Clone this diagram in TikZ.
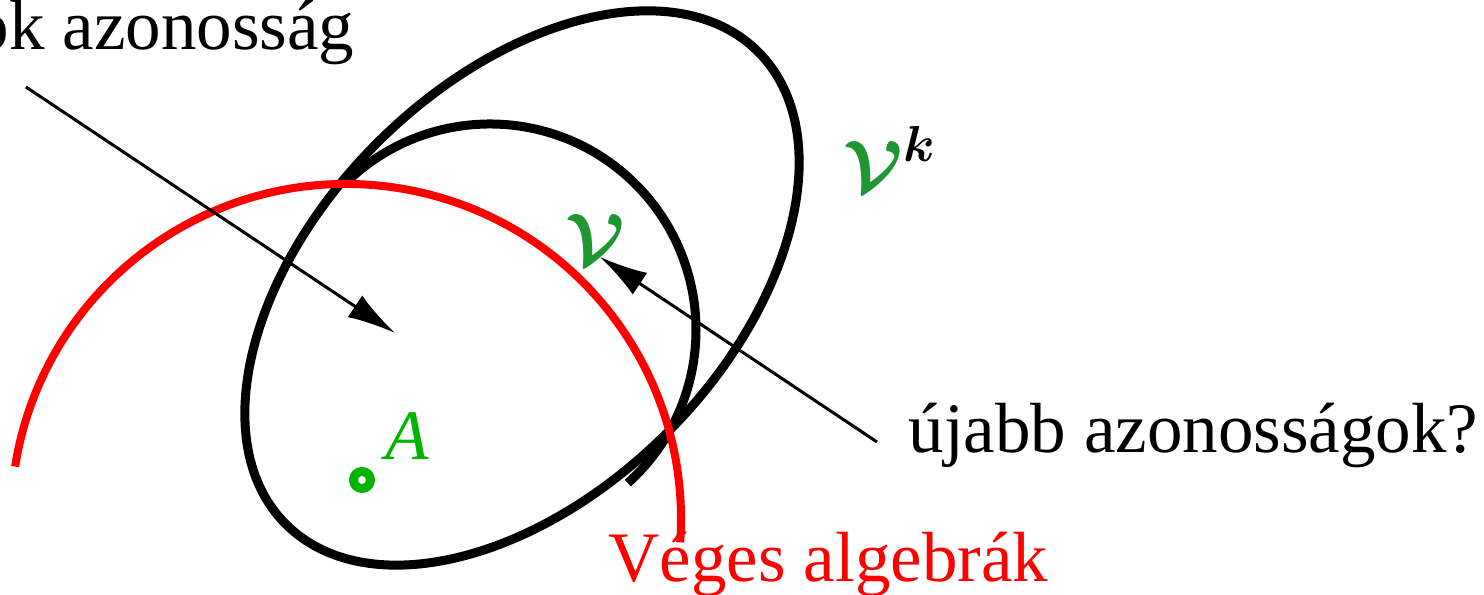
\documentclass[tikz,border=0pt]{standalone}
\usepackage{fontspec}
\setmainfont{Liberation Serif}
\usepackage{amsmath,amssymb}
\usepackage{tikz}
\usetikzlibrary{arrows.meta}
\definecolor{VarGreen}{RGB}{30,150,50}
\definecolor{PointGreen}{RGB}{0,180,0}

\begin{document}
\begin{tikzpicture}[x=0.1mm,y=0.1mm, every node/.style={font=\fontsize{20.2}{24}\selectfont,inner sep=0pt},
curve/.style={line width=0.9mm},
redarc/.style={line width=0.8mm,red},
arrow/.style={-{Latex[length=4.8mm,width=2.6mm]},line width=0.3mm},
txt/.style={anchor=base west},
dot/.style={circle,draw=PointGreen,line width=0.9mm,minimum size=1.7mm}]
\clip (0,0) rectangle (1484,595);
% variety V^k and the smaller variety V
\draw[curve,rotate around={45:(522,307)}] (522,307) ellipse [x radius=334,y radius=205];
\draw[curve] (490,265) ++(133:206) arc[start angle=133,end angle=-48,radius=206];
% finite algebras
\draw[redarc] (346,76) ++(171:335) arc[start angle=171,end angle=-4,radius=335];
\node[dot] (pA) at (362,115) {};
\node[txt,text=PointGreen] (lA) at (385,135) {\textit{A}};
\node[txt,text=VarGreen] (V) at (565,330) {$\boldsymbol{\mathcal{V}}$};
\node[txt,text=VarGreen] (Vk) at (843,403) {$\boldsymbol{\mathcal{V}}^{\color{black}\boldsymbol{k}}$};
\node[anchor=base east] (veges) at (355,545) {Véges sok azonosság};
\node[txt] (ujabb) at (908,142) {újabb azonosságok?};
\node[txt,text=red] (algebrak) at (608,13) {Véges algebrák};
\coordinate (s1) at (26,508);
\coordinate (t1) at (395,262);
\coordinate (s2) at (877,153);
\coordinate (t2) at (600,338);
\draw[arrow] (s1)--(t1);
\draw[arrow] (s2)--(t2);
\end{tikzpicture}
\end{document}
